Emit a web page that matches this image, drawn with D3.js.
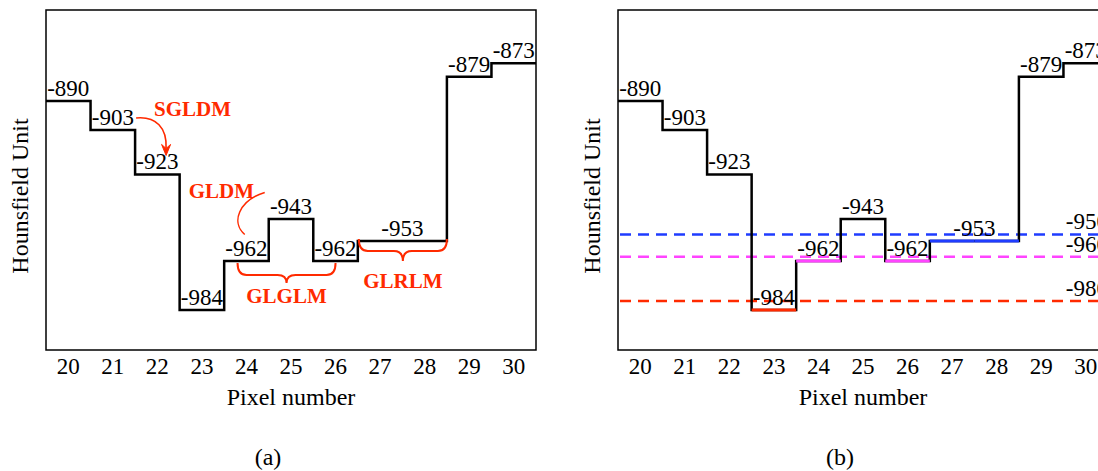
<!DOCTYPE html>
<html>
<head>
<meta charset="utf-8">
<script src="https://cdn.jsdelivr.net/npm/d3@7"></script>
<style>
  html, body { margin: 0; padding: 0; background: #fff; }
  svg { display: block; }
  text { font-family: "Liberation Serif", "Times New Roman", serif; fill: #000; }
</style>
</head>
<body>
<svg id="fig" width="1098" height="471"></svg>
<script>
// Hounsfield values along a row of pixels
const pixels = [20, 21, 22, 23, 24, 25, 26, 27, 28, 29, 30];
const huValues = [-890, -903, -923, -984, -962, -943, -962, -953, -953, -879, -873];

// Threshold levels shown in panel (b)
const thresholds = [-950, -960, -980];
const thresholdColors = ["#1f3cff", "#ff44ff", "#ff2a00"];

const panelCaptions = ["(a)", "(b)"];
const xTitle = "Pixel number";
const yTitle = "Hounsfield Unit";

const annoRed = "#ff2a00";
const W = 490, TOP = 10, BOTTOM = 350;
const panelLefts = [46, 618];
const yDomain = [-1002, -849];

const svg = d3.select("#fig");

// consecutive runs of equal value (one label per run)
function runs(vals) {
  const out = [];
  vals.forEach((v, i) => {
    const last = out[out.length - 1];
    if (last && last.v === v) last.end = i;
    else out.push({ v, start: i, end: i });
  });
  return out;
}

function drawPanel(left, idx) {
  const g = svg.append("g");
  const x = d3.scaleBand().domain(pixels).range([left, left + W]).paddingInner(0).paddingOuter(0);
  const bw = x.bandwidth();
  const y = d3.scaleLinear().domain(yDomain).range([BOTTOM, TOP]);

  // frame
  g.append("rect")
    .attr("x", left).attr("y", TOP).attr("width", W).attr("height", BOTTOM - TOP)
    .attr("fill", "none").attr("stroke", "#000").attr("stroke-width", 1.5);

  // x axis labels
  const ax = g.append("g").attr("transform", `translate(0,${BOTTOM})`)
    .call(d3.axisBottom(x).tickSize(0).tickPadding(8));
  ax.select(".domain").remove();
  ax.selectAll("text").style("font-family", "'Liberation Serif', serif").style("font-size", "23px").attr("fill", "#000");

  // axis titles
  g.append("text").attr("x", left + W / 2).attr("y", 405).attr("text-anchor", "middle")
    .style("font-size", "24px").text(xTitle);
  g.append("text").attr("transform", `translate(${left - 18},${196}) rotate(-90)`)
    .attr("text-anchor", "middle").style("font-size", "24px").text(yTitle);
  g.append("text").attr("x", left + 222).attr("y", 465).attr("text-anchor", "middle")
    .style("font-size", "24px").text(panelCaptions[idx]);

  // threshold lines (panel b)
  if (idx === 1) {
    thresholds.forEach((t, k) => {
      g.append("line")
        .attr("x1", left + 2).attr("x2", left + W).attr("y1", y(t)).attr("y2", y(t))
        .attr("stroke", thresholdColors[k]).attr("stroke-width", 2.5)
        .attr("stroke-dasharray", "11,7");
      g.append("text").attr("x", left + W).attr("y", y(t) - 5).attr("text-anchor", "end")
        .style("font-size", "23px").text(t);
    });
  }

  // step line
  const pts = pixels.map((p, i) => [x(p), y(huValues[i])]);
  pts.push([x(pixels[pixels.length - 1]) + bw, y(huValues[huValues.length - 1])]);
  g.append("path").attr("d", d3.line().curve(d3.curveStepAfter)(pts))
    .attr("fill", "none").attr("stroke", "#000").attr("stroke-width", 2.5)
    .attr("stroke-linejoin", "miter");

  // coloured plateaus in panel (b): deepest threshold the value falls below
  if (idx === 1) {
    const order = thresholds.map((t, k) => ({ t, c: thresholdColors[k] })).sort((a, b) => a.t - b.t);
    pixels.forEach((p, i) => {
      const v = huValues[i];
      const hit = order.find(o => v < o.t);
      if (!hit) return;
      g.append("line").attr("x1", x(p)).attr("x2", x(p) + bw)
        .attr("y1", y(v)).attr("y2", y(v))
        .attr("stroke", hit.c).attr("stroke-width", 3);
    });
  }

  // value labels
  runs(huValues).forEach(r => {
    const cx = (x(pixels[r.start]) + x(pixels[r.end]) + bw) / 2;
    g.append("text").attr("x", cx).attr("y", y(r.v) - 5).attr("text-anchor", "middle")
      .style("font-size", "23px").text(r.v);
  });

  return { x, y, bw, g };
}

const A = drawPanel(panelLefts[0], 0);
drawPanel(panelLefts[1], 1);

// feature-family annotations on panel (a)
(function annotate({ x, y, bw, g }) {
  const red = annoRed;
  const lbl = (tx, ty, s, anchor) => g.append("text").attr("x", tx).attr("y", ty)
    .attr("text-anchor", anchor || "start").style("font-size", "21px").style("font-weight", "bold")
    .attr("fill", red).style("fill", red).text(s);

  // SGLDM: neighbouring pixel pair
  lbl(x(22) + 19, y(-903) - 14, "SGLDM");
  const sx = x(22) + 1, sy = y(-903) - 12;
  const ex = x(22) + 31, ey = y(-923) - 20;
  g.append("path").attr("d", `M${sx},${sy} C${sx + 20},${sy - 2} ${ex + 1},${sy + 10} ${ex},${ey - 6}`)
    .attr("fill", "none").attr("stroke", red).attr("stroke-width", 1.6);
  g.append("path").attr("d", `M${ex - 4.5},${ey - 10} L${ex},${ey + 1} L${ex + 4.5},${ey - 10} L${ex},${ey - 6} Z`)
    .attr("fill", red).attr("stroke", red).attr("stroke-width", 1);

  // GLDM: dependence curve
  lbl(x(23) + 9, y(-923) + 24, "GLDM");
  const gx = x(25) - 4, gy = y(-923) + 18;
  g.append("path").attr("d", `M${gx},${gy} C${gx - 26},${gy + 8} ${gx - 34},${gy + 30} ${gx - 20},${gy + 42}`)
    .attr("fill", "none").attr("stroke", red).attr("stroke-width", 1.5);

  // curly brace below a span
  function brace(x1, x2, y0, y1, y2, xc) {
    const r = 9;
    return `M${x1},${y0} Q${x1},${y1} ${x1 + r},${y1} L${xc - r},${y1} Q${xc},${y1} ${xc},${y2}` +
           ` Q${xc},${y1} ${xc + r},${y1} L${x2 - r},${y1} Q${x2},${y1} ${x2},${y0}`;
  }
  // GLGLM over pixels 24–26
  const b1x1 = x(24) + 0.3 * bw, b1x2 = x(26) + 0.5 * bw, b1y = y(-962) + 2;
  const b1c = (b1x1 + b1x2) / 2;
  g.append("path").attr("d", brace(b1x1, b1x2, b1y, b1y + 12, b1y + 20, b1c))
    .attr("fill", "none").attr("stroke", red).attr("stroke-width", 2);
  lbl(b1c, b1y + 40, "GLGLM", "middle");

  // GLRLM over the run at pixels 27–28
  const b2x1 = x(27) + 1, b2x2 = x(28) + bw, b2y = y(-953) - 2;
  const b2c = (b2x1 + b2x2) / 2;
  g.append("path").attr("d", brace(b2x1, b2x2, b2y, b2y + 12, b2y + 22, b2c))
    .attr("fill", "none").attr("stroke", red).attr("stroke-width", 2);
  lbl(b2c, b2y + 49, "GLRLM", "middle");
})(A);
</script>
</body>
</html>
